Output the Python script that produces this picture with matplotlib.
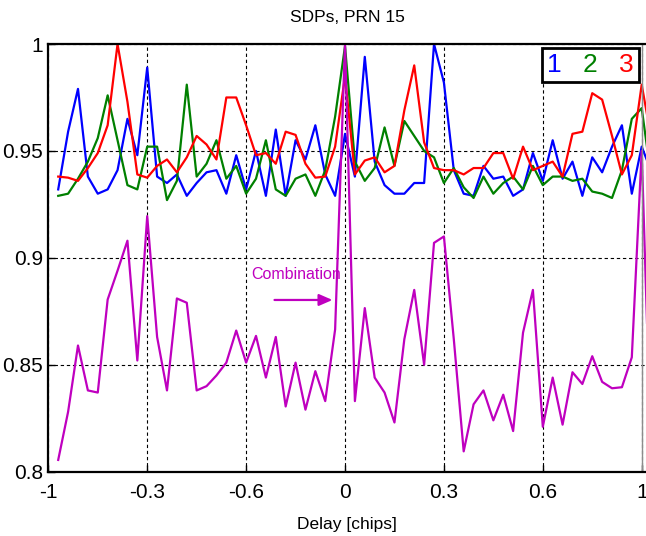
import numpy as np
import matplotlib
matplotlib.use("Agg")
import matplotlib.pyplot as plt

plt.rcParams["font.family"] = ["Liberation Sans", "DejaVu Sans"]

# delay axis, one sample every 1/30 chip
delay = np.arange(-29, 32) / 30.0

sdp_1 = [0.932, 0.959, 0.979, 0.938, 0.930, 0.932, 0.941, 0.965, 0.948, 0.989,
         0.938, 0.935, 0.939, 0.929, 0.935, 0.940, 0.941, 0.930, 0.948, 0.932,
         0.950, 0.929, 0.960, 0.929, 0.955, 0.946, 0.962, 0.939, 0.929, 0.958,
         0.938, 0.994, 0.945, 0.934, 0.930, 0.930, 0.935, 0.935, 1.000, 0.982,
         0.941, 0.930, 0.929, 0.943, 0.937, 0.938, 0.929, 0.932, 0.949, 0.936,
         0.955, 0.937, 0.945, 0.929, 0.947, 0.940, 0.952, 0.962, 0.930, 0.952, 0.940]
sdp_2 = [0.929, 0.930, 0.937, 0.945, 0.956, 0.976, 0.955, 0.934, 0.932, 0.952,
         0.952, 0.927, 0.936, 0.981, 0.938, 0.944, 0.955, 0.937, 0.943, 0.930,
         0.937, 0.955, 0.932, 0.929, 0.937, 0.939, 0.929, 0.941, 0.966, 0.999,
         0.945, 0.936, 0.942, 0.961, 0.943, 0.964, 0.957, 0.950, 0.947, 0.935,
         0.942, 0.933, 0.928, 0.938, 0.930, 0.935, 0.938, 0.932, 0.943, 0.934,
         0.938, 0.938, 0.936, 0.937, 0.931, 0.930, 0.928, 0.941, 0.965, 0.970, 0.936]
sdp_3 = [0.938, 0.9375, 0.936, 0.942, 0.949, 0.962, 1.000, 0.973, 0.939, 0.9375,
         0.943, 0.946, 0.940, 0.947, 0.957, 0.953, 0.946, 0.975, 0.975, 0.962,
         0.948, 0.949, 0.944, 0.959, 0.9575, 0.944, 0.9375, 0.938, 0.952, 0.985,
         0.939, 0.9455, 0.947, 0.940, 0.943, 0.969, 0.990, 0.954, 0.942, 0.941,
         0.941, 0.939, 0.942, 0.942, 0.949, 0.949, 0.937, 0.952, 0.941, 0.943,
         0.945, 0.938, 0.958, 0.959, 0.977, 0.974, 0.957, 0.939, 0.948, 0.981, 0.955]
combination = [0.8055, 0.828, 0.859, 0.838, 0.837, 0.8805, 0.894, 0.908, 0.852, 0.9195,
               0.863, 0.838, 0.881, 0.879, 0.838, 0.840, 0.845, 0.851, 0.866, 0.851,
               0.8635, 0.844, 0.863, 0.8305, 0.851, 0.829, 0.847, 0.833, 0.8665, 1.000,
               0.833, 0.8765, 0.844, 0.837, 0.823, 0.862, 0.885, 0.850, 0.907, 0.910,
               0.862, 0.8095, 0.8315, 0.838, 0.824, 0.836, 0.819, 0.865, 0.885, 0.821,
               0.844, 0.822, 0.8465, 0.841, 0.854, 0.842, 0.839, 0.8395, 0.8535, 0.950, 0.800]

series_labels = ["1", "2", "3"]
series_colors = ["#0000ff", "#008000", "#ff0000"]
comb_color = "#bf00bf"

xtick_labels = ["-1", "-0.3", "-0.6", "0", "0.3", "0.6", "1"]
ytick_values = [0.8, 0.85, 0.9, 0.95, 1.0]
ytick_labels = ["0.8", "0.85", "0.9", "0.95", "1"]

fig = plt.figure(figsize=(6.46, 5.36), dpi=100)
ax = fig.add_axes([0.0748, 0.12, 0.9252, 0.7979])

for vals, lab, col in zip([sdp_1, sdp_2, sdp_3], series_labels, series_colors):
    ax.plot(delay, vals, color=col, lw=1.6, label=lab)
ax.plot(delay, combination, color=comb_color, lw=1.6)

xticks = np.linspace(-1, 1, len(xtick_labels))
ax.set_xlim(-1, 1.0145)
ax.set_ylim(0.8, 1.0)
ax.set_xticks(xticks)
ax.set_xticklabels(xtick_labels)
ax.set_yticks(ytick_values)
ax.set_yticklabels(ytick_labels)
ax.tick_params(direction="in", length=5, width=1, labelsize=15)
ax.tick_params(axis="x", pad=8)
ax.tick_params(axis="y", pad=4)
ax.grid(True, color="black", lw=0.8, linestyle=(0, (3, 2.5)))
ax.axvline(xticks[-1], color="0.55", lw=1)

for side in ["left", "bottom", "top"]:
    ax.spines[side].set_linewidth(1.6)
ax.spines["right"].set_visible(False)

ax.set_title("SDPs, PRN 15", fontsize=12.5, pad=16)
ax.set_xlabel("Delay [chips]", fontsize=12.5, labelpad=11)

# label + arrow pointing at the combined peak
ax.text(-0.165, 0.892, "Combination", color=comb_color, fontsize=11.5,
        ha="center", va="center")
ax.annotate("", xy=(-0.033, 0.8803), xytext=(-0.247, 0.8803),
            arrowprops=dict(arrowstyle="-|>,head_length=0.8,head_width=0.35",
                            color=comb_color, lw=1.6))

leg = ax.legend(loc="upper right", bbox_to_anchor=(0.988, 0.991), borderaxespad=0,
                ncol=3, handlelength=0, handletextpad=0, columnspacing=0.8,
                labelcolor="linecolor", fontsize=19, fancybox=False,
                borderpad=0.2, framealpha=1)
leg.get_frame().set_edgecolor("black")
leg.get_frame().set_linewidth(2)

fig.savefig("out.png", dpi=100)
